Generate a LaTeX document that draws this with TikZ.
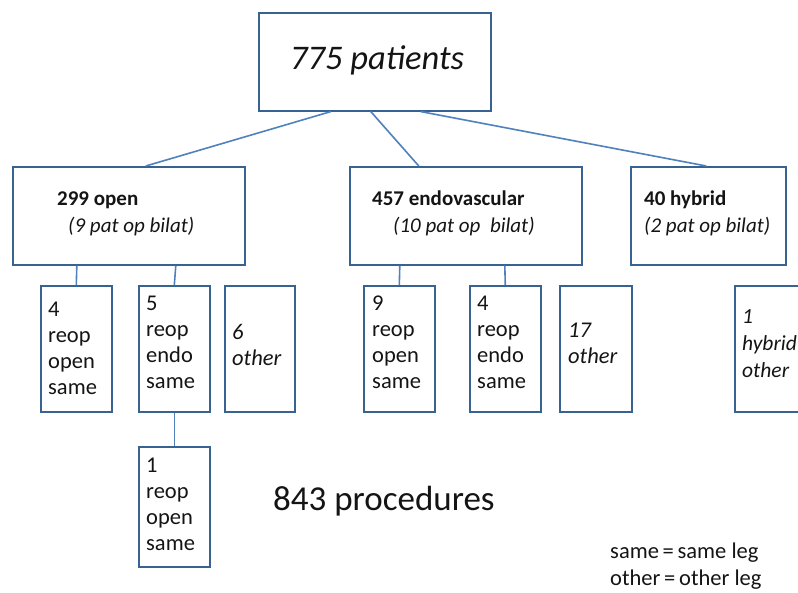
\documentclass[tikz,border=0pt]{standalone}
\usepackage{fontspec}
\setmainfont{Carlito}
\definecolor{boxc}{RGB}{56,98,145}
\definecolor{linec}{RGB}{79,129,189}
\definecolor{txt}{RGB}{20,20,20}
\begin{document}
\begin{tikzpicture}[x=1pt,y=-1pt,
  box/.style={draw=boxc, line width=1.6pt, rectangle, inner sep=0pt, anchor=north west},
  conn/.style={draw=linec, line width=1.6pt},
  lbl/.style={anchor=base west, inner sep=0pt, text=txt, align=left},
  l2/.style={lbl, font=\fontsize{21}{26}\selectfont},
  l3/.style={lbl, font=\fontsize{22.5}{26}\selectfont},
]
\useasboundingbox (0,0) rectangle (798,592);
\clip (0,0) rectangle (798,592);
% boxes
\node[box, minimum width=232pt, minimum height=98pt] (top) at (258,12) {};
\node[box, minimum width=232pt, minimum height=98pt] (open) at (12,166) {};
\node[box, minimum width=232pt, minimum height=98pt] (endo) at (349,166) {};
\node[box, minimum width=155pt, minimum height=98pt] (hyb) at (630,166) {};
\node[box, minimum width=71pt, minimum height=126pt] (o1) at (40,285) {};
\node[box, minimum width=71pt, minimum height=126pt] (o2) at (138,285) {};
\node[box, minimum width=70pt, minimum height=126pt] (o3) at (224,285) {};
\node[box, minimum width=71pt, minimum height=126pt] (e1) at (363,285) {};
\node[box, minimum width=71pt, minimum height=126pt] (e2) at (469,285) {};
\node[box, minimum width=72pt, minimum height=126pt] (e3) at (559,285) {};
\node[box, minimum width=80pt, minimum height=126pt] (h1) at (734,285) {};
\node[box, minimum width=71pt, minimum height=120pt] (o4) at (138,446) {};
% connectors
\draw[conn] ([xshift=-44pt]top.south) -- ([xshift=17pt]open.north);
\draw[conn] ([xshift=-4pt]top.south) -- ([xshift=-47pt]endo.north);
\draw[conn] ([xshift=46pt]top.south) -- ([xshift=-2pt]hyb.north);
\draw[conn] ([xshift=-52pt]open.south) -- (o1.north);
\draw[conn] ([xshift=47pt]open.south) -- (o2.north);
\draw[conn] ([xshift=-66pt]endo.south) -- (e1.north);
\draw[conn] ([xshift=39pt]endo.south) -- (e2.north);
\draw[conn] (o2.south) -- (o4.north);
% texts
\node[lbl, font=\fontsize{34.5}{40}\selectfont\itshape] (ttop) at (290,69) {775 patients};
\node[l2, font=\fontsize{21}{26}\selectfont\bfseries] (topen) at (57,205) {299 open};
\node[l2, font=\fontsize{21}{26}\selectfont\itshape] (iopen) at (68,232) {(9 pat op bilat)};
\node[l2, font=\fontsize{21}{26}\selectfont\bfseries] (tendo) at (372,205) {457 endovascular};
\node[l2, font=\fontsize{21}{26}\selectfont\itshape] (iendo) at (393,232) {(10 pat op\ \ bilat)};
\node[l2, font=\fontsize{21}{26}\selectfont\bfseries] (thyb) at (644,205) {40 hybrid};
\node[l2, font=\fontsize{21}{26}\selectfont\itshape] (ihyb) at (644,232) {(2 pat op bilat)};
\node[l3] (to1) at (48,394) {4\\reop\\open\\same};
\node[l3] (to2) at (146,388) {5\\reop\\endo\\same};
\node[l3, font=\fontsize{22.5}{26}\selectfont\itshape] (to3) at (232,365) {6\\other};
\node[l3] (te1) at (372,388) {9\\reop\\open\\same};
\node[l3] (te2) at (477,388) {4\\reop\\endo\\same};
\node[l3, font=\fontsize{22.5}{26}\selectfont\itshape] (te3) at (568,363) {17\\other};
\node[l3, font=\fontsize{21.5}{27}\selectfont\itshape] (th1) at (742,377) {1\\hybrid\\other};
\node[l3] (to4) at (146,550) {1\\reop\\open\\same};
\node[lbl, font=\fontsize{35}{40}\selectfont] (proc) at (273,510) {843 procedures};
\node[lbl, font=\fontsize{22.5}{27}\selectfont] (leg) at (610,585) {same\,=\,same leg\\other\,=\,other leg};
\end{tikzpicture}
\end{document}
